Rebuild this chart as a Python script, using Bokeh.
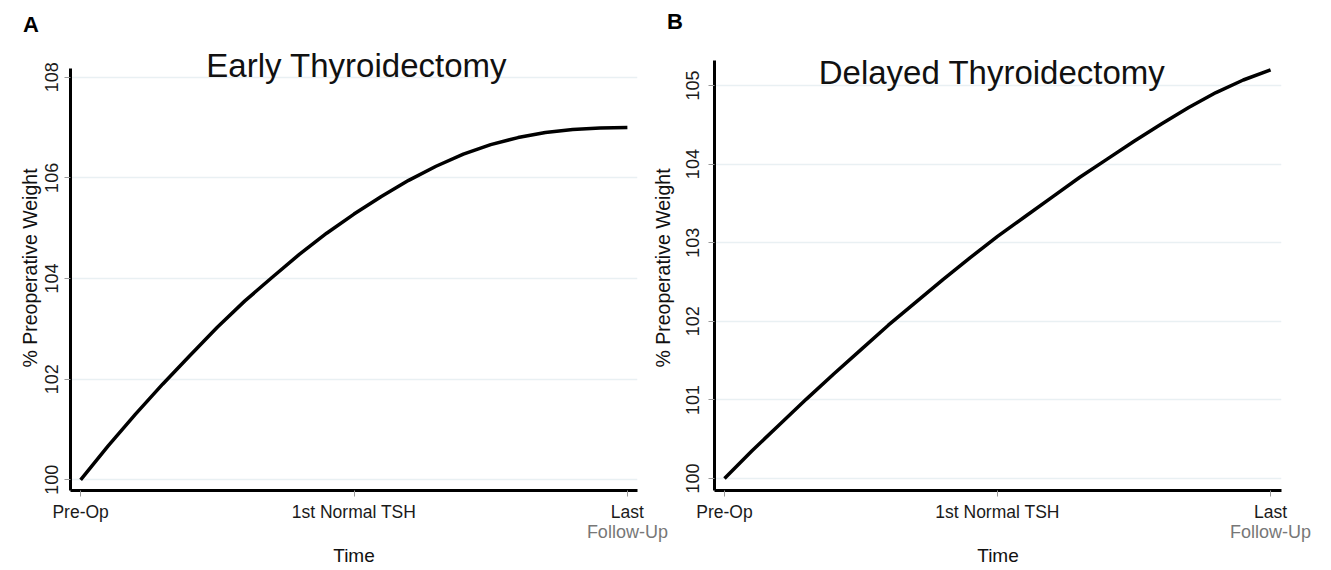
from bokeh.plotting import figure
from bokeh.layouts import row, column
from bokeh.models import Range1d, FixedTicker, Label, LinearAxis, Div
from bokeh.embed import file_html
from bokeh.resources import INLINE

# ---- data ----
time_pos = [0.0, 0.1, 0.2, 0.3, 0.4, 0.5, 0.6, 0.7, 0.8, 0.9, 1.0,
            1.1, 1.2, 1.3, 1.4, 1.5, 1.6, 1.7, 1.8, 1.9, 2.0]
early_weight = [100.0, 100.67, 101.30, 101.90, 102.47, 103.03, 103.55, 104.02,
                104.48, 104.90, 105.28, 105.63, 105.95, 106.23, 106.47, 106.66,
                106.80, 106.90, 106.96, 106.99, 107.0]
delayed_weight = [100.0, 100.35, 100.68, 101.01, 101.33, 101.64, 101.95, 102.24,
                  102.53, 102.81, 103.08, 103.33, 103.58, 103.83, 104.06, 104.29,
                  104.51, 104.72, 104.91, 105.07, 105.20]
x_ticks = [0, 1, 2]
x_tick_labels = ["Pre-Op", "1st Normal TSH", "Last"]
x_tick_sub = "Follow-Up"
early_y_ticks = [100, 102, 104, 106, 108]
delayed_y_ticks = [100, 101, 102, 103, 104, 105]
panel_letters = ["A", "B"]
panel_titles = ["Early Thyroidectomy", "Delayed Thyroidectomy"]

FONT = "Liberation Sans"


def build(width, margin, border_left, border_right, border_top, border_bottom,
          xr, yr, y_bounds, yticks, ylab_standoff, ytick_standoff,
          title, title_x, title_y, values):
    p = figure(width=width, height=530, output_backend="svg", toolbar_location=None,
               title=None, x_range=Range1d(*xr), y_range=Range1d(*yr),
               min_border_left=border_left, min_border_right=border_right,
               min_border_top=border_top, min_border_bottom=border_bottom,
               margin=margin)
    p.background_fill_color = None
    p.border_fill_color = None
    p.outline_line_color = None

    xa = p.xaxis[0]
    ya = p.yaxis[0]
    xa.ticker = FixedTicker(ticks=x_ticks)
    xa.major_label_overrides = {t: l for t, l in zip(x_ticks, x_tick_labels)}
    ya.ticker = FixedTicker(ticks=yticks)
    ya.bounds = y_bounds
    for ax in (xa, ya):
        ax.axis_line_color = "black"
        ax.axis_line_width = 3
        ax.major_tick_line_color = "#999999"
        ax.major_tick_line_width = 1
        ax.major_tick_out = 6
        ax.major_tick_in = 0
        ax.minor_tick_line_color = None
        ax.major_label_text_font = FONT
        ax.major_label_text_color = "#1a1a1a"
        ax.axis_label_text_font = FONT
        ax.axis_label_text_font_style = "normal"
        ax.axis_label_text_color = "#111111"
    xa.major_label_text_font_size = "17.5px"
    xa.major_label_standoff = 5
    ya.major_label_text_font_size = "18px"
    ya.major_label_orientation = "vertical"
    ya.major_label_standoff = ytick_standoff
    ya.axis_label = "% Preoperative Weight"
    ya.axis_label_text_font_size = "19.5px"
    ya.axis_label_standoff = ylab_standoff

    # second line of the last tick label + axis title
    xa2 = LinearAxis(ticker=FixedTicker(ticks=[2]),
                     major_label_overrides={2: x_tick_sub})
    xa2.axis_line_color = None
    xa2.major_tick_line_color = None
    xa2.minor_tick_line_color = None
    xa2.major_tick_out = 0
    xa2.major_tick_in = 0
    xa2.major_label_standoff = -3
    xa2.major_label_text_font = FONT
    xa2.major_label_text_font_size = "18px"
    xa2.major_label_text_color = "#777777"
    xa2.axis_label = "Time"
    xa2.axis_label_text_font = FONT
    xa2.axis_label_text_font_style = "normal"
    xa2.axis_label_text_font_size = "19px"
    xa2.axis_label_text_color = "#111111"
    xa2.axis_label_standoff = 0
    p.add_layout(xa2, "below")

    p.xgrid.grid_line_color = None
    p.ygrid.grid_line_color = "#e9f0f3"
    p.ygrid.grid_line_width = 1.5

    p.line(time_pos, values, line_color="black", line_width=3.5)
    p.add_layout(Label(x=title_x, y=title_y, text=title, text_align="center",
                       text_baseline="alphabetic", text_font=FONT,
                       text_font_size="33px", text_color="#111111"))
    return p


pa = build(680, 0, 70, 43, 5, 80,
           (-0.037, 2.037), (99.787, 108.63), (99.787, 108.173),
           early_y_ticks, 2, 6, panel_titles[0], 1.01, 108.23, early_weight)
pb = build(686, (0, 0, 0, -35), 69, 50, 5, 80,
           (-0.0366, 2.04), (99.847, 105.509), (99.847, 105.318),
           delayed_y_ticks, 10, 9, panel_titles[1], 0.98, 105.17, delayed_weight)

letter_style = ("position:absolute;font-family:'Liberation Sans';font-size:22px;"
                "font-weight:bold;line-height:22px;color:black;margin:0;padding:0;")
header = Div(
    text=(f'<div style="position:relative;width:1331px;height:40px;margin:0;padding:0;">'
          f'<span style="{letter_style}left:23px;top:14px;">{panel_letters[0]}</span>'
          f'<span style="{letter_style}left:667px;top:11px;">{panel_letters[1]}</span>'
          f'</div>'),
    width=1331, height=40, margin=0)

layout = column(header, row(pa, pb, spacing=0), spacing=0)
open("out.html", "w").write(file_html(layout, INLINE))
